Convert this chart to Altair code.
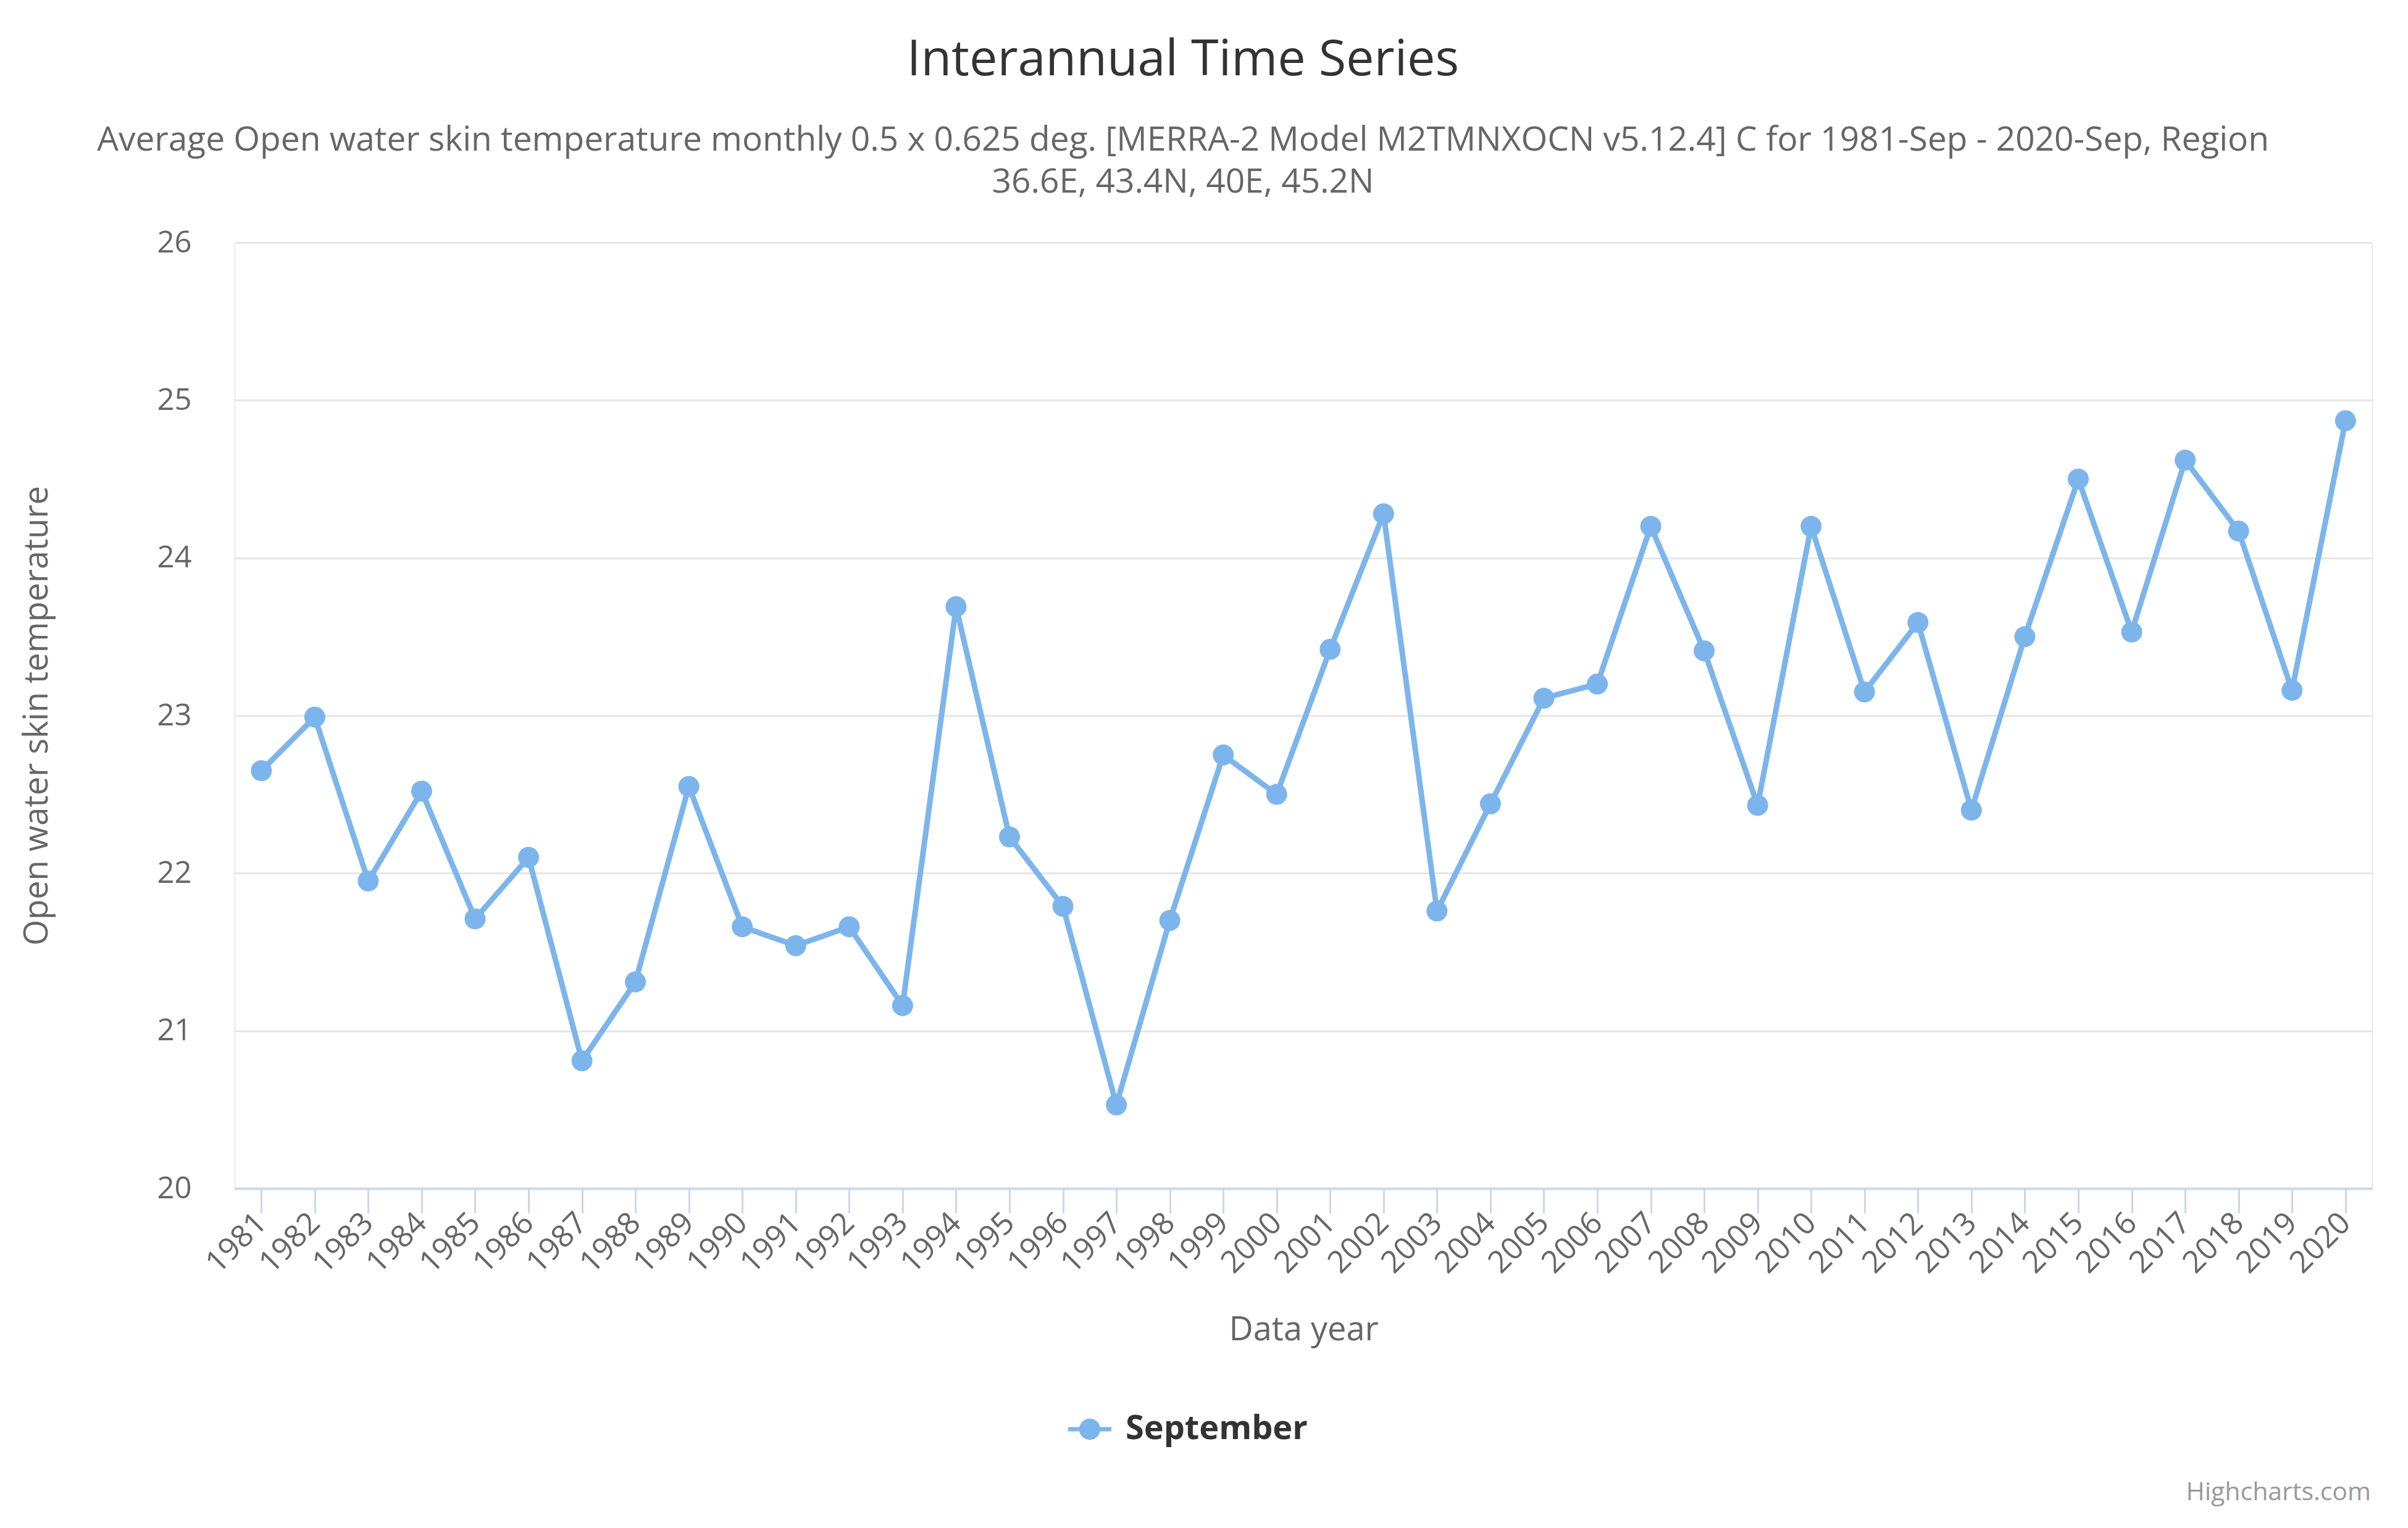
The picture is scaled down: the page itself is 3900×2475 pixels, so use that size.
import altair as alt
import pandas as pd

years = list(range(1981, 2021))
temps = [22.65, 22.99, 21.95, 22.52, 21.71, 22.10, 20.81, 21.31, 22.55, 21.66,
         21.54, 21.66, 21.16, 23.69, 22.23, 21.79, 20.53, 21.70, 22.75, 22.50,
         23.42, 24.28, 21.76, 22.44, 23.11, 23.20, 24.20, 23.41, 22.43, 24.20,
         23.15, 23.59, 22.40, 23.50, 24.50, 23.53, 24.62, 24.17, 23.16, 24.87]
series_names = ["September"] * len(years)
y_ticks = [20, 21, 22, 23, 24, 25, 26]

title_text = "Interannual Time Series"
subtitle_lines = [
    "Average Open water skin temperature monthly 0.5 x 0.625 deg. [MERRA-2 Model M2TMNXOCN v5.12.4] C for 1981-Sep - 2020-Sep, Region",
    "36.6E, 43.4N, 40E, 45.2N",
]
credits = ["Highcharts.com"]

SERIES_COLOR = "#7cb5ec"
FONT = "Open Sans"

df = pd.DataFrame({"year": years, "temp": temps, "series": series_names})
cred_df = pd.DataFrame({"t": credits})

W, H = 3462, 1532

x_enc = alt.X(
    "year:Q",
    scale=alt.Scale(domain=[1980.5, 2020.5], nice=False, zero=False),
    axis=alt.Axis(
        values=years, format="d", title="Data year",
        labelAngle=315, labelAlign="right", labelBaseline="middle",
        labelFontSize=50, labelColor="#666666", labelPadding=8,
        labelOverlap=False, labelFont=FONT,
        domainColor="#ccd6eb", domainWidth=4,
        tickColor="#ccd6eb", tickWidth=3, tickSize=40,
        grid=False,
        titleFontSize=54, titleColor="#666666", titleFontWeight="normal",
        titleFont=FONT,
        titleX=W / 2, titleY=229, titleAlign="center", titleBaseline="middle",
    ),
)
y_enc = alt.Y(
    "temp:Q",
    scale=alt.Scale(domain=[20, 26], nice=False, zero=False),
    axis=alt.Axis(
        values=y_ticks, format="d", title="Open water skin temperature",
        labelFontSize=49, labelColor="#666666", labelPadding=70, labelFont=FONT,
        ticks=False, domain=False,
        grid=True, gridColor="#e6e6e6", gridWidth=3,
        titleFontSize=54, titleColor="#666666", titleFontWeight="normal",
        titleFont=FONT,
        titleX=-320, titleY=H / 2, titleAngle=270,
        titleAlign="center", titleBaseline="middle",
    ),
)

legend_symbol = (
    "M-1,-0.1 L1,-0.1 L1,0.1 L-1,0.1 Z "
    "M-0.49,0 A0.49,0.49 0 1,1 0.49,0 A0.49,0.49 0 1,1 -0.49,0 Z"
)

base = alt.Chart(df).encode(x=x_enc, y=y_enc)

line = base.mark_line(color=SERIES_COLOR, strokeWidth=9)

points = base.mark_point(
    filled=True, shape="circle", size=1156, opacity=1, strokeWidth=0
).encode(
    color=alt.Color(
        "series:N",
        scale=alt.Scale(domain=["September"], range=[SERIES_COLOR]),
        legend=alt.Legend(
            title=None, orient="none", legendX=1350, legendY=1887,
            symbolType=legend_symbol, symbolSize=4900, symbolOpacity=1,
            symbolStrokeWidth=0,
            labelFontSize=54, labelFontWeight="bold", labelColor="#333333",
            labelFont=FONT, labelOffset=23, labelLimit=2000, padding=0,
        ),
    )
)

cred = alt.Chart(cred_df).mark_text(
    align="right", baseline="alphabetic", fontSize=41, color="#999999", font=FONT
).encode(text="t:N", x=alt.value(3460), y=alt.value(2037))

chart = (
    alt.layer(line, points, cred)
    .properties(
        width=W, height=H,
        autosize=alt.AutoSizeParams(type="none"),
        padding={"left": 372, "top": 385, "right": 42, "bottom": 542},
        title=alt.TitleParams(
            text=title_text, subtitle=subtitle_lines,
            anchor="middle", dx=-195, offset=45,
            fontSize=81, color="#333333", fontWeight="normal", font=FONT,
            subtitleFontSize=55, subtitleColor="#666666", subtitleFont=FONT,
            subtitleLineHeight=68, subtitlePadding=62,
        ),
    )
    .configure_view(stroke=None)
    .configure(font=FONT)
)

chart.save("out.html", embed_options={"renderer": "svg", "actions": False})
